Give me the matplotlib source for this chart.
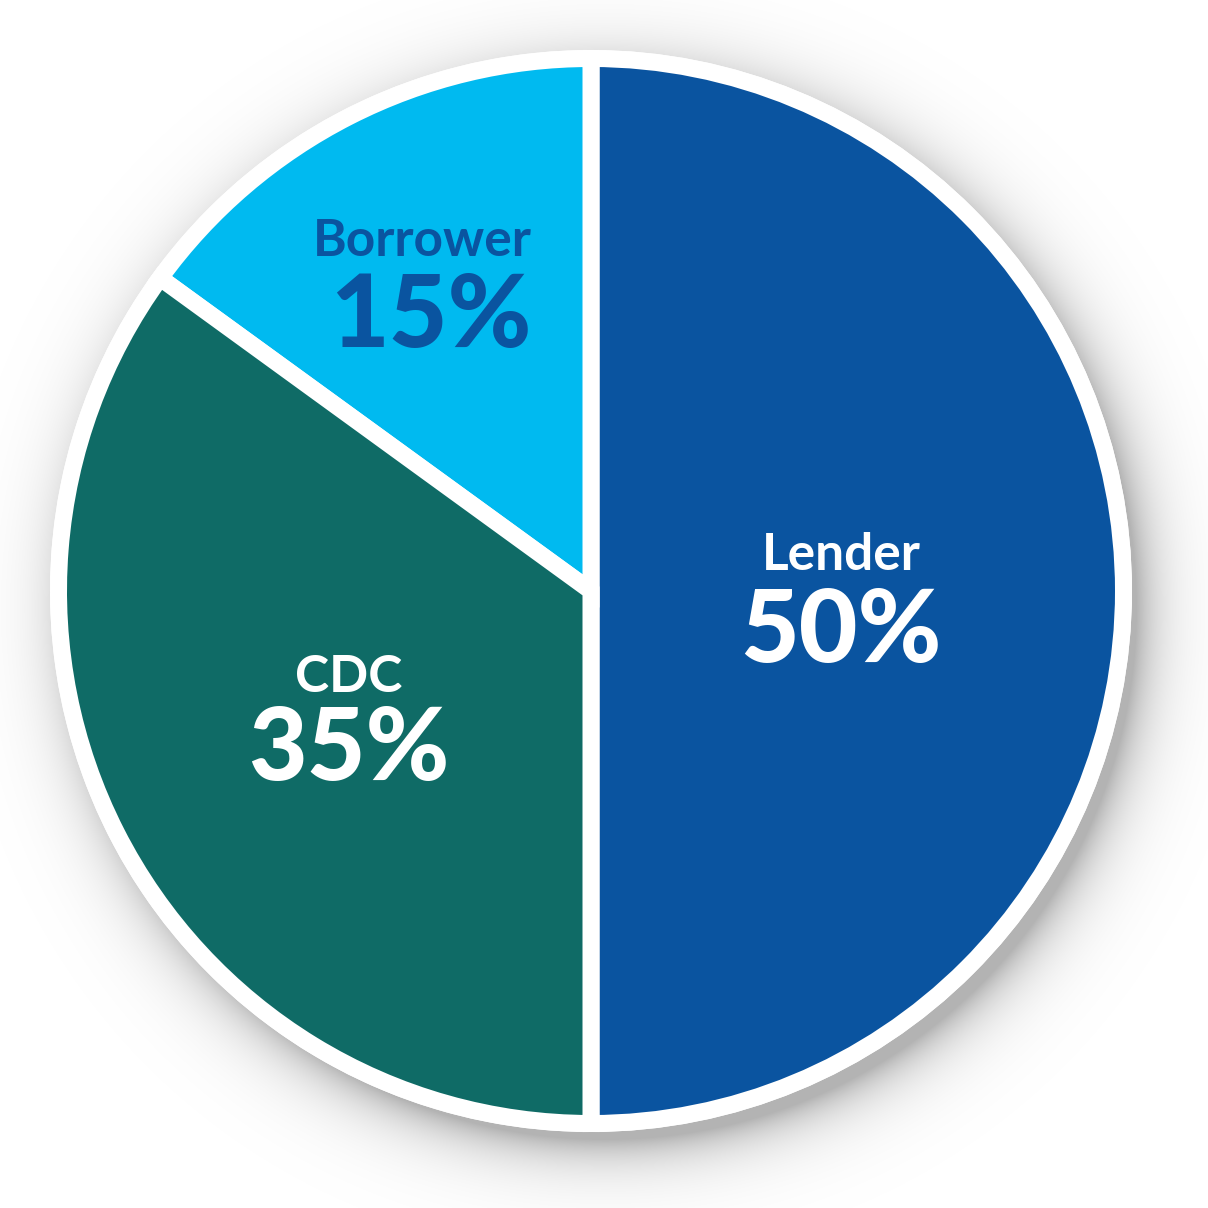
import matplotlib
matplotlib.use("Agg")
import matplotlib.pyplot as plt
import numpy as np
from matplotlib.patches import Circle

plt.rcParams["font.family"] = ["Lato", "DejaVu Sans"]

# data
labels = ["Lender", "Borrower", "CDC"]
shares = [50, 15, 35]
wedge_colors = ["#0A54A0", "#00BAF0", "#0F6B66"]
text_colors = ["white", "#0A54A0", "white"]

W = H = 1208
CX, CY = 591, 1208 - 591      # pie centre (data coords = pixels, y up)
R_COLOR = 524                 # visible coloured radius
R_RING = 541                  # white rim
GAP = 17                      # white gap between wedges, px

fig = plt.figure(figsize=(12.08, 12.08), dpi=100)
ax = fig.add_axes([0, 0, 1, 1])
ax.set_xlim(0, W)
ax.set_ylim(0, H)
ax.set_aspect("equal")
ax.axis("off")

# soft drop shadow, towards bottom-right
yy, xx = np.mgrid[0:H, 0:W]
d = np.hypot(xx - (CX + 14), yy - (CY - 18)) - (R_RING - 10)
alpha = np.where(d < 0, 0.3, 0.3 * np.exp(-np.clip(d, 0, None) / 27.0))
shadow = np.zeros((H, W, 4))
shadow[..., 3] = alpha
ax.imshow(shadow, extent=(0, W, 0, H), origin="lower", zorder=0)

ax.add_patch(Circle((CX, CY), R_RING, facecolor="white", edgecolor="none", zorder=1))

lw_pt = GAP * 72 / fig.dpi
wedges, _ = ax.pie(shares, colors=wedge_colors, startangle=-90, counterclock=True,
                   center=(CX, CY), radius=R_COLOR + GAP / 2, frame=True,
                   wedgeprops=dict(edgecolor="white", linewidth=lw_pt, zorder=2))
ax.set_xlim(0, W)
ax.set_ylim(0, H)
ax.axis("off")

# label layout: (x, name baseline, pct baseline, align) in screen pixels
layout = [(841, 570, 662, "center"), (532, 256, 347, "right"), (349, 692, 780, "center")]
for lab, val, tc, (x, yb1, yb2, ha) in zip(labels, shares, text_colors, layout):
    ax.text(x, H - yb1, lab, color=tc, fontsize=37, fontweight="bold",
            ha=ha, va="baseline", zorder=3)
    ax.text(x, H - yb2, f"{val}%", color=tc, fontsize=73, fontweight="black",
            ha=ha, va="baseline", zorder=3)

fig.savefig("out.png", dpi=100)
